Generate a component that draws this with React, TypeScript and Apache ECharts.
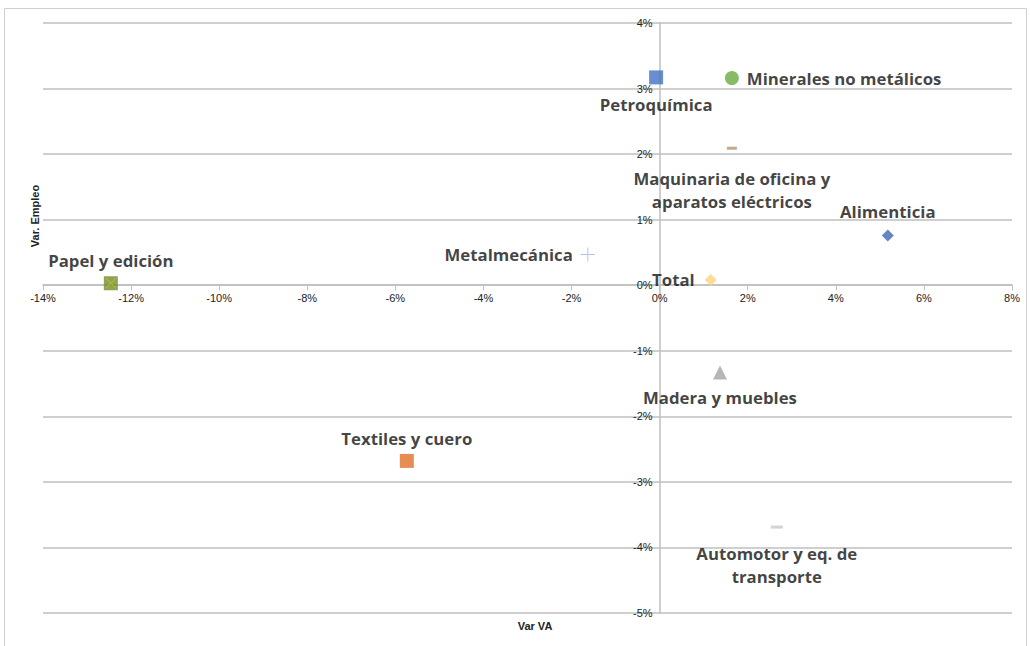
import React, { useEffect, useRef } from "react";
import * as echarts from "echarts";

const names = [
  "Petroquímica",
  "Minerales no metálicos",
  "Maquinaria de oficina y\naparatos eléctricos",
  "Alimenticia",
  "Metalmecánica",
  "Total",
  "Papel y edición",
  "Madera y muebles",
  "Textiles y cuero",
  "Automotor y eq. de\ntransporte",
];
const varVA = [-0.08, 1.64, 1.64, 5.18, -1.63, 1.16, -12.46, 1.37, -5.74, 2.66];
const varEmpleo = [3.17, 3.16, 2.09, 0.76, 0.47, 0.08, 0.03, -1.33, -2.68, -3.69];
const xTicks = [-14, -12, -10, -8, -6, -4, -2, 0, 2, 4, 6, 8];
const yTicks = [-5, -4, -3, -2, -1, 0, 1, 2, 3, 4];

const PLUS = "path://M7,0 L8,0 L8,7 L15,7 L15,8 L8,8 L8,15 L7,15 L7,8 L0,8 L0,7 L7,7 Z";
const XMARK = "path://M0,1 L1,0 L7.5,6.5 L14,0 L15,1 L8.5,7.5 L15,14 L14,15 L7.5,8.5 L1,15 L0,14 L6.5,7.5 Z";

const styles: any[] = [
  { symbol: "rect", size: 14, color: "#4472C4", pos: "bottom", dist: 12.5, lh: 15 },
  { symbol: "circle", size: 14, color: "#6AAA40", pos: "right", dist: 8, lh: 18 },
  { symbol: "rect", size: [10, 3], color: "#B8946A", pos: "bottom", dist: 17, lh: 23 },
  { symbol: "diamond", size: 12, color: "#3F68B5", pos: "top", dist: 9, lh: 18 },
  { symbol: PLUS, size: 14, color: "#9FB4E0", pos: "left", dist: 8, lh: 18 },
  { symbol: "diamond", size: 12, color: "#FFD27F", pos: "left", dist: 10, lh: 18 },
  { symbol: "rect", size: 14, color: "#6E8F2A", pos: "top", dist: 7, lh: 18 },
  { symbol: "triangle", size: 14, color: "#A5A5A5", pos: "bottom", dist: 9, lh: 18 },
  { symbol: "rect", size: 14, color: "#E0702A", pos: "top", dist: 6, lh: 18 },
  { symbol: "rect", size: [12, 3], color: "#C8C8C8", pos: "bottom", dist: 13, lh: 23 },
];

const GRID = { left: 43, right: 18, top: 23, bottom: 33 };
const W = 1030;
const H = 646;

export default function App() {
  const ref = useRef<HTMLDivElement>(null);
  useEffect(() => {
    if (!ref.current) return;
    const chart = echarts.init(ref.current, undefined, { renderer: "svg" });
    const xMin = xTicks[0];
    const xMax = xTicks[xTicks.length - 1];
    const yMin = yTicks[0];
    const yMax = yTicks[yTicks.length - 1];
    const gw = W - GRID.left - GRID.right;
    const gh = H - GRID.top - GRID.bottom;
    const yOffset = -((0 - xMin) / (xMax - xMin)) * gw;
    const xOffset = -((0 - yMin) / (yMax - yMin)) * gh;
    const series: any[] = names.map((n, i) => ({
      type: "scatter",
      name: n,
      symbol: styles[i].symbol,
      symbolSize: styles[i].size,
      itemStyle: { color: styles[i].color },
      data: [{ value: [varVA[i], varEmpleo[i]], name: n }],
      label: {
        show: true,
        position: styles[i].pos,
        distance: styles[i].dist,
        formatter: n,
        fontFamily: "Open Sans",
        fontWeight: "bold",
        fontSize: 16.8,
        color: "#111",
        lineHeight: styles[i].lh,
        align: styles[i].pos === "left" ? "right" : styles[i].pos === "right" ? "left" : "center",
      },
      z: 3,
    }));
    series.push({
      type: "scatter",
      symbol: XMARK,
      symbolSize: 11,
      itemStyle: { color: "#C8B820" },
      data: [[varVA[6], varEmpleo[6]]],
      z: 4,
      silent: true,
    });
    chart.setOption({
      animation: false,
      grid: { ...GRID, containLabel: false },
      xAxis: {
        type: "value",
        position: "bottom",
        offset: xOffset,
        min: xMin,
        max: xMax,
        interval: 2,
        axisLine: { onZero: false, lineStyle: { color: "#BFBFBF", width: 1.5 } },
        axisTick: { show: true, length: 5, lineStyle: { color: "#BFBFBF" } },
        axisLabel: {
          formatter: (v: number) => v + "%",
          color: "#222",
          fontFamily: "Liberation Sans",
          fontSize: 11,
          margin: 7,
        },
        splitLine: { show: false },
      },
      yAxis: {
        type: "value",
        position: "left",
        offset: yOffset,
        min: yMin,
        max: yMax,
        interval: 1,
        axisLine: { onZero: false, lineStyle: { color: "#BFBFBF", width: 1.5 } },
        axisTick: { show: false },
        axisLabel: {
          formatter: (v: number) => v + "%",
          color: "#222",
          fontFamily: "Liberation Sans",
          fontSize: 11,
          lineHeight: 11,
          margin: 7,
        },
        splitLine: { show: true, lineStyle: { color: "#BFBFBF", width: 1.5 } },
      },
      graphic: [
        {
          type: "rect",
          shape: { x: 4.5, y: 8.5, width: 1022, height: 660 },
          style: { fill: "none", stroke: "#D0D0D0", lineWidth: 1 },
          silent: true,
        },
        {
          type: "text",
          x: 535,
          y: 626,
          style: {
            text: "Var VA",
            fontFamily: "Liberation Sans",
            fontWeight: "bold",
            fontSize: 11,
            fill: "#222",
            align: "center",
            verticalAlign: "middle",
          },
        },
        {
          type: "text",
          x: 35,
          y: 216,
          rotation: Math.PI / 2,
          style: {
            text: "Var. Empleo",
            fontFamily: "Liberation Sans",
            fontWeight: "bold",
            fontSize: 11,
            fill: "#222",
            align: "center",
            verticalAlign: "middle",
          },
        },
      ],
      series,
    });
    return () => chart.dispose();
  }, []);
  return (
    <div
      ref={ref}
      style={{ position: "fixed", left: 0, top: 0, width: W, height: H, background: "#fff" }}
    />
  );
}
